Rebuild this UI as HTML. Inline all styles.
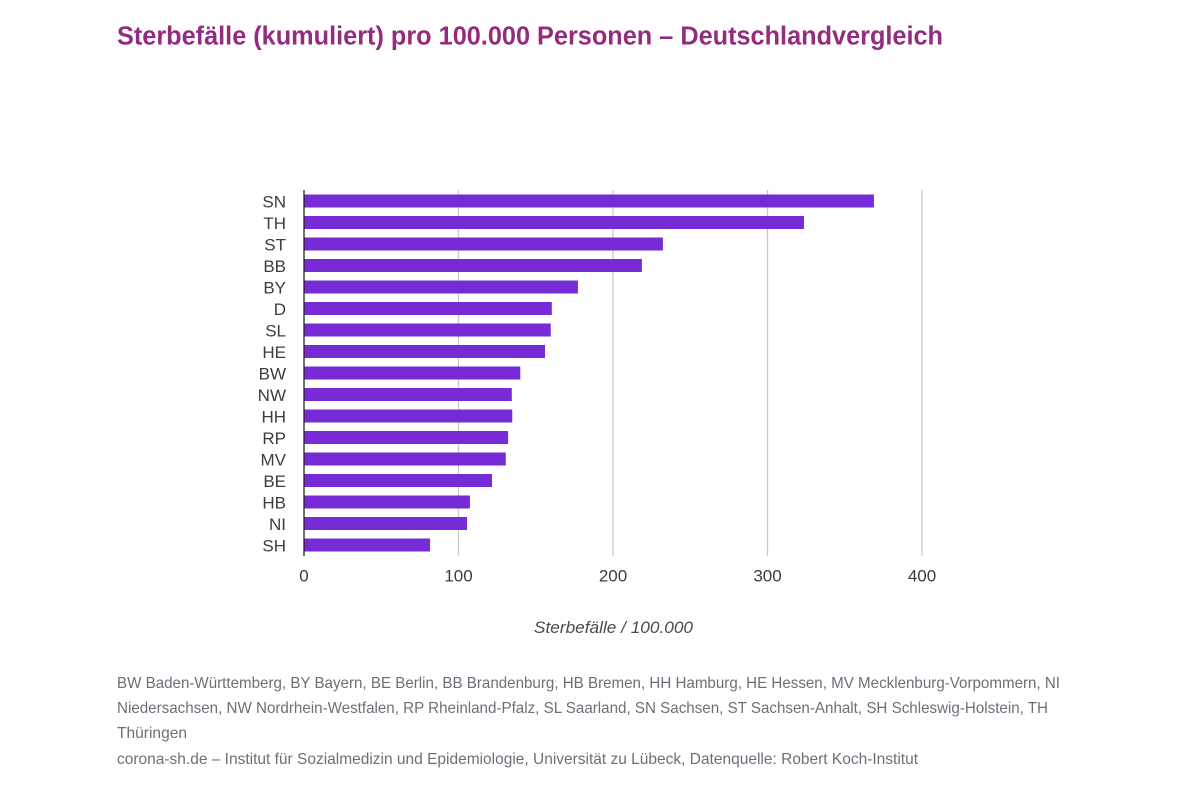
<!DOCTYPE html>
<html lang="de">
<head>
<meta charset="utf-8">
<title>Sterbefälle pro 100.000 Personen</title>
<style>
html,body{margin:0;padding:0;background:#fff;}
body{width:1200px;height:799px;overflow:hidden;}
svg{display:block;font-family:"Liberation Sans",sans-serif;}
.foot{font-size:16px;fill:#6a7078;}
.lab{font-size:17px;fill:#3c3c3c;}
</style>
</head>
<body>
<svg id="chart" width="1200" height="799" viewBox="0 0 1200 799" xmlns="http://www.w3.org/2000/svg">
<text x="117" y="44.500" font-size="25.500" font-weight="bold" fill="#932b7f" textLength="826" lengthAdjust="spacingAndGlyphs">Sterbefälle (kumuliert) pro 100.000 Personen – Deutschlandvergleich</text>
<g id="grid"></g>
<g id="bars"></g>
<g id="cats"></g>
<g id="ticks"></g>
<line x1="304" x2="304" y1="190" y2="556" stroke="#222" stroke-width="1.300"/>
<text x="613.500" y="633" text-anchor="middle" font-size="17" font-style="italic" fill="#4a4a4a" textLength="159" lengthAdjust="spacingAndGlyphs">Sterbefälle / 100.000</text>
<text class="foot" x="117" y="688" textLength="943" lengthAdjust="spacingAndGlyphs">BW Baden-Württemberg, BY Bayern, BE Berlin, BB Brandenburg, HB Bremen, HH Hamburg, HE Hessen, MV Mecklenburg-Vorpommern, NI</text>
<text class="foot" x="117" y="713" textLength="931" lengthAdjust="spacingAndGlyphs">Niedersachsen, NW Nordrhein-Westfalen, RP Rheinland-Pfalz, SL Saarland, SN Sachsen, ST Sachsen-Anhalt, SH Schleswig-Holstein, TH</text>
<text class="foot" x="117" y="738" textLength="70" lengthAdjust="spacingAndGlyphs">Thüringen</text>
<text class="foot" x="117" y="764" textLength="801" lengthAdjust="spacingAndGlyphs">corona-sh.de – Institut für Sozialmedizin und Epidemiologie, Universität zu Lübeck, Datenquelle: Robert Koch-Institut</text>
</svg>
<script>
const categories = ["SN","TH","ST","BB","BY","D","SL","HE","BW","NW","HH","RP","MV","BE","HB","NI","SH"];
const values = [368.9,323.6,232.3,218.7,177.3,160.4,159.7,156,140,134.5,134.8,132.1,130.6,121.7,107.4,105.5,81.6];
const tickValues = [0,100,200,300,400];

const NS = "http://www.w3.org/2000/svg";
function xScale(v){ return 304 + v * 1.545; }
function yScale(i){ return 201 + i * 21.5; }
function make(tag, attrs, parent, text){
  const el = document.createElementNS(NS, tag);
  for (const k in attrs) el.setAttribute(k, attrs[k]);
  if (text !== undefined) el.textContent = text;
  parent.appendChild(el);
  return el;
}
const gridG = document.getElementById("grid");
const barsG = document.getElementById("bars");
const catsG = document.getElementById("cats");
const ticksG = document.getElementById("ticks");

tickValues.forEach(function(t){
  const x = xScale(t);
  if (t !== 0) {
    const line = make("line", {x1:x, x2:x, y1:190, y2:556, stroke:"#c9c9c9", "stroke-width":1.3}, gridG);
    
    
  }
  const label = make("text", {class:"lab", x:x, y:581.5, "text-anchor":"middle"}, ticksG, String(t));
  
  
});

categories.forEach(function(c, i){
  const y = yScale(i);
  const bar = make("rect", {x:304, y:y-6.5, width:xScale(values[i])-304, height:13, fill:"#772bd6"}, barsG);
  
  
  const label = make("text", {class:"lab", x:286, y:y+6.3, "text-anchor":"end"}, catsG, c);
  
  
});
</script>
</body>
</html>
